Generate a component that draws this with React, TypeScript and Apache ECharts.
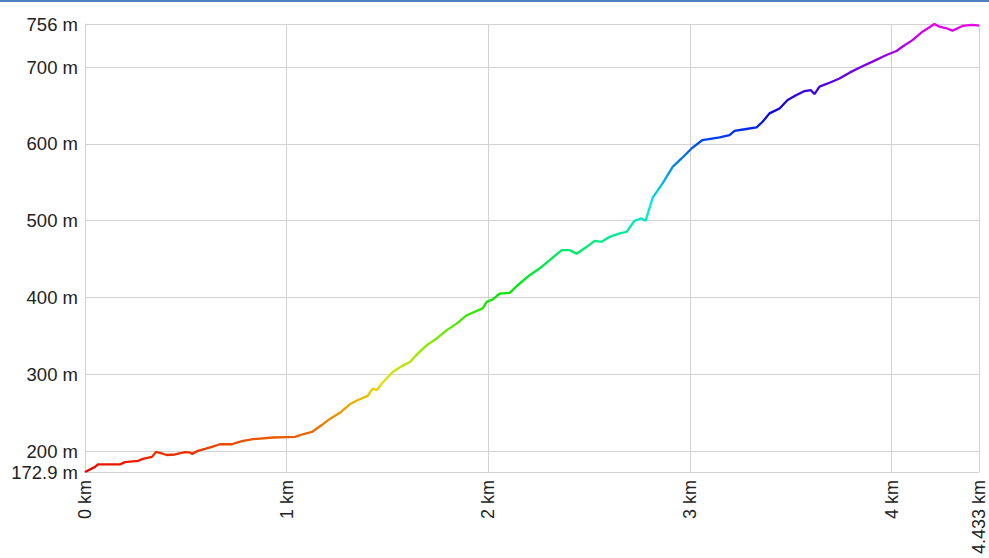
import React, { useEffect, useRef } from "react";
import * as echarts from "echarts";

// Elevation profile (distance in km, elevation in m)
const distanceKm: number[] = [
  0, 0.05, 0.064, 0.173, 0.198, 0.263, 0.287, 0.332, 0.352, 0.372, 0.406, 0.446, 0.496, 0.52, 0.53, 0.56,
  0.595, 0.629, 0.669, 0.728, 0.778, 0.833, 0.932, 1.041, 1.08, 1.125, 1.174, 1.214, 1.264, 1.313, 1.348,
  1.402, 1.427, 1.447, 1.472, 1.526, 1.571, 1.611, 1.65, 1.695, 1.744, 1.794, 1.843, 1.893, 1.972, 1.992,
  2.022, 2.056, 2.106, 2.141, 2.205, 2.255, 2.304, 2.364, 2.403, 2.438, 2.488, 2.527, 2.562, 2.602, 2.651,
  2.686, 2.725, 2.76, 2.78, 2.815, 2.864, 2.914, 2.958, 3.008, 3.062, 3.147, 3.196, 3.221, 3.271, 3.33,
  3.36, 3.394, 3.444, 3.484, 3.528, 3.568, 3.598, 3.617, 3.642, 3.692, 3.741, 3.791, 3.855, 3.905, 3.974,
  4.024, 4.053, 4.103, 4.153, 4.212, 4.237, 4.272, 4.301, 4.351, 4.4, 4.433,
];
const elevationM: number[] = [
  172.9, 179.6, 182.7, 182.7, 185.7, 187.4, 190, 192.6, 199, 197.8, 195, 195.7, 198.7, 198.5, 196.5, 200.4,
  203, 205.6, 209, 209, 213, 215.6, 217.8, 218.6, 222, 225, 234, 242, 250, 261, 266,
  272, 281.6, 279.4, 288, 303, 310.7, 316, 327, 338, 346.7, 357.6, 366, 377, 385.8, 394.4,
  397.5, 405, 406, 415, 429, 438, 448.7, 461.7, 461.7, 457, 466, 473.8, 472.5, 479, 483.5,
  485.5, 499.9, 503, 500, 530, 548.6, 570, 581, 594, 605, 608.5, 611.5, 617, 619, 621.5,
  628.8, 639.7, 646, 657, 663.5, 668.7, 670, 664.8, 674.4, 679.6, 685, 692.7, 701, 707, 715.6,
  720.8, 726.4, 735, 746, 756, 752.6, 750.4, 747.3, 753.5, 755, 754,
];

const xTicks: number[] = [0, 1, 2, 3, 4, 4.433];
const yTicks: number[] = [172.9, 200, 300, 400, 500, 600, 700, 756];
const yMin = 172.9;
const yMax = 756;
const xMin = 0;
const xMax = 4.433;

const rampColors: string[] = [
  "#eb0000", "#eb7500", "#e6e000", "#75eb00", "#00e600", "#00eb75",
  "#00ebeb", "#0075eb", "#0000eb", "#7500eb", "#eb00eb",
];

export default function App() {
  const ref = useRef<HTMLDivElement>(null);
  useEffect(() => {
    if (!ref.current) return;
    const chart = echarts.init(ref.current, undefined, { renderer: "svg" });
    const font = "Liberation Sans, Arial, sans-serif";
    const gridColor = "#d2d2d2";
    chart.setOption({
      animation: false,
      backgroundColor: "#ffffff",
      grid: {
        left: 85,
        right: 10,
        top: 24,
        bottom: 86,
        containLabel: false,
        outerBoundsMode: "none",
      },
      graphic: [
        {
          type: "rect",
          left: 0,
          top: 0,
          shape: { width: 989, height: 2 },
          style: { fill: "#4f7fbf" },
          silent: true,
        },
      ],
      xAxis: {
        type: "value",
        min: xMin,
        max: xMax,
        axisLine: { show: true, lineStyle: { color: gridColor, width: 1 } },
        axisTick: { show: false, customValues: xTicks },
        splitLine: { show: true, lineStyle: { color: gridColor, width: 1 } },
        axisLabel: {
          customValues: xTicks,
          rotate: 90,
          margin: 8,
          fontFamily: font,
          fontSize: 18,
          color: "#222",
          formatter: (v: number) => `${v} km`,
        },
      },
      yAxis: {
        type: "value",
        min: yMin,
        max: yMax,
        axisLine: { show: true, lineStyle: { color: gridColor, width: 1 } },
        axisTick: { show: false, customValues: yTicks },
        splitLine: { show: true, lineStyle: { color: gridColor, width: 1 } },
        axisLabel: {
          customValues: yTicks,
          margin: 7,
          fontFamily: font,
          fontSize: 18.5,
          color: "#222",
          formatter: (v: number) => `${v} m`,
        },
      },
      visualMap: {
        type: "continuous",
        show: false,
        dimension: 1,
        seriesIndex: 0,
        min: yMin,
        max: yMax,
        inRange: { color: rampColors },
      },
      series: [
        {
          type: "line",
          data: distanceKm.map((d, i) => [d, elevationM[i]]),
          showSymbol: false,
          symbol: "none",
          lineStyle: { width: 2.3 },
          silent: true,
        },
      ],
    });
    return () => chart.dispose();
  }, []);
  return (
    <div
      ref={ref}
      style={{ position: "fixed", left: 0, top: 0, width: 989, height: 558, background: "#fff" }}
    />
  );
}
